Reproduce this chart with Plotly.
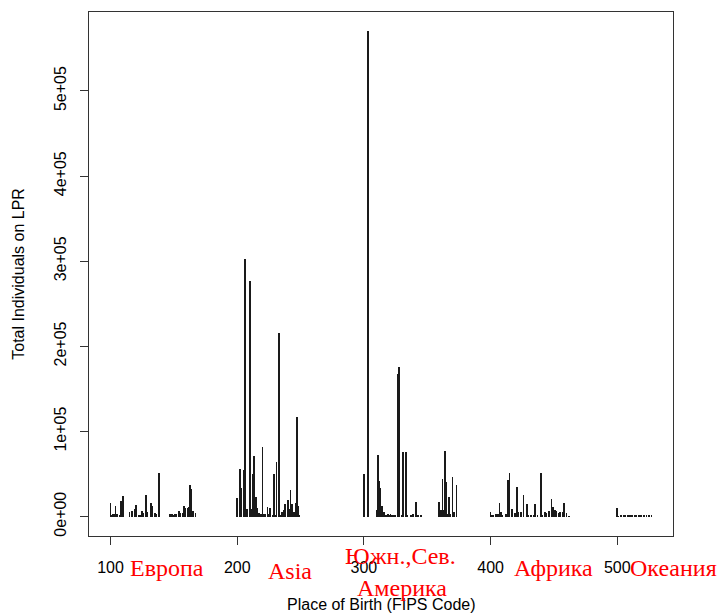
import plotly.graph_objects as go

# Lawful permanent residents by place of birth (FIPS code), grouped by region
europe_codes = [100, 101, 102, 103, 104, 105, 107, 108, 110,
                115, 117, 119, 120, 122, 123, 125, 126, 128, 129, 132, 133, 135, 136, 138,
                147, 148, 149, 150, 151, 152, 154, 155, 157, 158, 159, 161, 162, 163, 164, 165, 167]
europe_counts = [16000, 2000, 3000, 2500, 13000, 3000, 2000, 18000, 24000,
                 5000, 6000, 9500, 14000, 2000, 1500, 6000, 4000, 25000, 5000, 16000, 12000, 4000, 3000, 51000,
                 3500, 2500, 3000, 2000, 3500, 2500, 7000, 4000, 4000, 13000, 10000, 10000, 11000, 37500, 32000, 6000, 4000]

asia_codes = [200, 202, 203, 205, 206, 208, 210, 211, 212, 213, 214, 215, 216, 217, 219,
              220, 221, 222, 224, 225, 226, 228, 229, 230, 231, 233, 234, 235, 236, 237,
              238, 240, 241, 242, 243, 244, 245, 246, 247, 248, 249]
asia_counts = [22400, 55800, 33400, 54300, 303000, 9000, 277000, 9000, 50400, 70800, 18500, 23600, 9800, 4700, 3500,
               82200, 3500, 3000, 11800, 3500, 10600, 2000, 50400, 2000, 64500, 215500, 2000, 5900, 5000, 8200,
               15300, 20000, 9000, 31000, 15000, 5000, 5000, 15500, 117000, 12500, 2000]

americas_codes = [300, 303, 310, 311, 312, 313, 314, 316, 317, 318, 319, 320, 321, 322, 323, 324, 325,
                  327, 328, 330, 331, 333, 334, 337, 339, 341, 343, 345,
                  359, 361, 362, 363, 364, 365, 366, 367, 368, 370, 371, 373]
americas_counts = [50400, 570000, 7900, 72400, 42100, 33400, 12600, 5000, 1500, 2000, 2500, 1500, 3000, 1500, 2000, 1000, 1500,
                   167000, 176000, 2000, 75500, 76300, 2000, 2000, 3500, 17300, 1000, 1000,
                   16900, 8000, 44500, 8000, 77500, 40100, 3000, 23600, 3000, 46000, 5000, 36600]

africa_codes = [400, 401, 402, 404, 406, 407, 408, 409, 412, 414, 415, 417, 419, 421, 422, 424, 426,
                429, 430, 432, 434, 435, 437, 440, 441, 443, 444, 446, 448, 449, 451, 452, 454,
                455, 457, 458, 460, 462]
africa_counts = [5900, 2000, 1500, 2500, 3000, 16100, 5900, 1500, 3000, 42500, 51100, 9000, 3900, 34600, 5900, 5900, 25200,
                 15000, 2000, 2000, 1500, 15300, 1000, 51100, 2000, 5900, 3900, 7000, 21200, 11800, 7900, 6000, 4000,
                 5000, 5000, 15700, 3900, 500]

oceania_codes = [500, 501, 503, 505, 506, 508, 509, 511, 512, 514, 515, 517, 519, 521, 523, 525, 527]
oceania_counts = [10000, 500, 800, 2000, 1000, 1200, 800, 1500, 1000, 1200, 800, 1000, 800, 1200, 800, 1000, 800]

y_tick_vals = [0, 100000, 200000, 300000, 400000, 500000]
y_tick_text = ["0e+00", "1e+05", "2e+05", "3e+05", "4e+05", "5e+05"]
x_tick_vals = [100, 200, 300, 400, 500]

# region names along the x axis: (text, x in paper units, y in paper units)
region_labels = [
    ("Европа", 0.134, -0.062),
    ("Asia", 0.345, -0.066),
    ("Южн.,Сев.", 0.534, -0.038),
    ("Америка", 0.536, -0.100),
    ("Африка", 0.795, -0.062),
    ("Океания", 1.0, -0.062),
]

codes = europe_codes + asia_codes + americas_codes + africa_codes + oceania_codes
counts = europe_counts + asia_counts + americas_counts + africa_counts + oceania_counts

fig = go.Figure()
fig.add_trace(go.Bar(
    x=codes, y=counts, width=0.6,
    marker=dict(color="#1a1a1a", line=dict(width=0)),
    showlegend=False, hoverinfo="x+y",
))

axis_font = dict(family="Liberation Sans, Arial, sans-serif", size=16, color="black")

fig.update_layout(
    width=717, height=614,
    margin=dict(l=89, r=44, t=12, b=78),
    paper_bgcolor="white", plot_bgcolor="white",
    bargap=0,
    xaxis=dict(
        range=[83, 544], tickvals=x_tick_vals, ticks="outside", ticklen=8,
        tickcolor="#333", showgrid=False, zeroline=False,
        showline=True, linecolor="#333", linewidth=1, mirror=True,
        tickfont=axis_font, ticklabelstandoff=9,
    ),
    yaxis=dict(
        range=[-22800, 592800], tickvals=y_tick_vals, ticktext=y_tick_text,
        ticks="outside", ticklen=8, tickcolor="#333", tickangle=-90,
        showgrid=False, zeroline=False,
        showline=True, linecolor="#333", linewidth=1, mirror=True,
        tickfont=axis_font, ticklabelstandoff=8,
    ),
)

fig.add_annotation(
    text="Place of Birth (FIPS Code)", xref="paper", yref="paper",
    x=0.5, y=-0.13, xanchor="center", yanchor="middle", showarrow=False,
    font=axis_font,
)
fig.add_annotation(
    text="Total Individuals on LPR", xref="paper", yref="paper",
    x=-0.122, y=0.5, xanchor="center", yanchor="middle", textangle=-90,
    showarrow=False, font=axis_font,
)

for label, xpos, ypos in region_labels:
    fig.add_annotation(
        text=label, xref="paper", yref="paper", x=xpos, y=ypos,
        xanchor="center", yanchor="middle", showarrow=False,
        font=dict(family="Liberation Serif, Times New Roman, serif", size=24, color="red"),
    )

fig.write_html("out.html")
